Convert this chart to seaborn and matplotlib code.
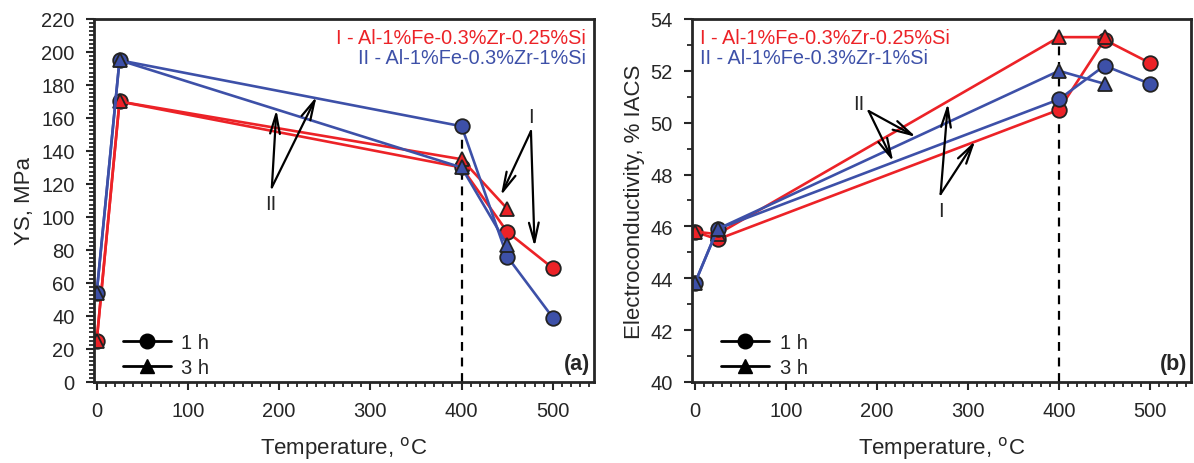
import numpy as np
import pandas as pd
import matplotlib
matplotlib.use("Agg")
import matplotlib.pyplot as plt
import seaborn as sns
from matplotlib.lines import Line2D
from matplotlib.ticker import MultipleLocator

# ---- data ----
temp_1h = [0, 25, 400, 450, 500]
temp_3h = [0, 25, 400, 450]

ys_I_1h = [25, 170, 130, 91, 69]
ys_I_3h = [25, 170, 135, 105]
ys_II_1h = [54, 195, 155, 76, 39]
ys_II_3h = [54, 195, 130, 83]

ec_I_1h = [45.8, 45.5, 50.5, 53.2, 52.3]
ec_I_3h = [45.8, 45.7, 53.3, 53.3]
ec_II_1h = [43.8, 45.9, 50.9, 52.2, 51.5]
ec_II_3h = [43.8, 45.9, 52.0, 51.5]

alloy_I = "I - Al-1%Fe-0.3%Zr-0.25%Si"
alloy_II = "II - Al-1%Fe-0.3%Zr-1%Si"

RED = "#ec2227"
BLUE = "#3d50a8"


def long_df(vals):
    rows = []
    for alloy, time, temps, v in vals:
        for t, y in zip(temps, v):
            rows.append({"alloy": alloy, "time": time, "temp": t, "val": y})
    return pd.DataFrame(rows)


ys = long_df([(alloy_I, "1 h", temp_1h, ys_I_1h), (alloy_I, "3 h", temp_3h, ys_I_3h),
              (alloy_II, "1 h", temp_1h, ys_II_1h), (alloy_II, "3 h", temp_3h, ys_II_3h)])
ec = long_df([(alloy_I, "1 h", temp_1h, ec_I_1h), (alloy_I, "3 h", temp_3h, ec_I_3h),
              (alloy_II, "1 h", temp_1h, ec_II_1h), (alloy_II, "3 h", temp_3h, ec_II_3h)])

sns.set_style("ticks")
plt.rcParams["font.family"] = ["Liberation Sans", "DejaVu Sans"]
plt.rcParams["font.size"] = 14

fig = plt.figure(figsize=(11.94, 4.64), dpi=100)
ax1 = fig.add_axes([0.0787, 0.1746, 0.4187, 0.7823])
ax2 = fig.add_axes([0.5796, 0.1746, 0.4179, 0.7823])

pal = {alloy_I: RED, alloy_II: BLUE}
mk = {"1 h": "o", "3 h": "^"}


def draw(ax, df, ylim, ymajor, yminor, ylabel, tag, text_x, text_ha):
    sns.lineplot(data=df, x="temp", y="val", hue="alloy", style="time",
                 markers=mk, dashes=False, palette=pal, ax=ax, legend=False,
                 lw=1.9, markersize=10.5, markeredgecolor="#222222",
                 markeredgewidth=1.3, sort=False)
    top = df.loc[df["temp"] == 400, "val"].max()
    ax.vlines(400, ylim[0], top, colors="k", linestyles=(0, (4, 3)), lw=1.6, zorder=1)
    ax.set_xlim(-3, 545)
    ax.set_ylim(*ylim)
    ax.xaxis.set_major_locator(MultipleLocator(100))
    ax.xaxis.set_minor_locator(MultipleLocator(10))
    ax.yaxis.set_major_locator(MultipleLocator(ymajor))
    ax.yaxis.set_minor_locator(MultipleLocator(yminor))
    ax.tick_params(which="major", direction="out", length=6, width=1.5, labelsize=14.5, pad=8)
    ax.tick_params(which="minor", direction="out", length=3.5, width=1.3)
    for s in ax.spines.values():
        s.set_linewidth(2)
    ax.set_xlabel("Temperature, $^{\\rm o}$C", fontsize=16, labelpad=10)
    ax.set_ylabel(ylabel, fontsize=16)
    ax.text(text_x, 0.950, alloy_I, color=RED, ha=text_ha, va="center",
            transform=ax.transAxes, fontsize=14.3)
    ax.text(text_x, 0.893, alloy_II, color=BLUE, ha=text_ha, va="center",
            transform=ax.transAxes, fontsize=14.3)
    ax.text(0.992, 0.05, tag, ha="right", va="center", transform=ax.transAxes,
            fontsize=15.5, fontweight="bold")
    handles = [Line2D([], [], color="k", lw=2, marker="o", markersize=10.5, label="1 h"),
               Line2D([], [], color="k", lw=2, marker="^", markersize=10.5, label="3 h")]
    ax.legend(handles=handles, loc="lower left", bbox_to_anchor=(0.03, -0.025),
              frameon=False, handlelength=2.4, fontsize=14.5, labelspacing=0.3,
              handletextpad=0.5, borderaxespad=0.3)


draw(ax1, ys, (0, 220), 20, 2.5, "YS, MPa", "(a)", 0.984, "right")
draw(ax2, ec, (40, 54), 2, 1, "Electroconductivity, % IACS", "(b)", 0.016, "left")

arrow = dict(arrowstyle="->,head_length=1.0,head_width=0.25", color="k", lw=1.6,
             shrinkA=0, shrinkB=0)

# panel (a) annotations
ax1.text(191, 108, "II", ha="center", va="center", fontsize=14.5)
for tip in [(197, 165), (241, 173)]:
    ax1.annotate("", xy=tip, xytext=(192, 118), arrowprops=arrow)
ax1.text(476, 161, "I", ha="center", va="center", fontsize=14.5)
for tip in [(443, 113), (480, 82)]:
    ax1.annotate("", xy=tip, xytext=(476, 152), arrowprops=arrow)

# panel (b) annotations
ax2.text(180, 50.76, "II", ha="center", va="center", fontsize=14.5)
for tip in [(243, 49.45), (218, 48.5)]:
    ax2.annotate("", xy=tip, xytext=(191, 50.45), arrowprops=arrow)
ax2.text(270, 46.6, "I", ha="center", va="center", fontsize=14.5)
for tip in [(278, 50.75), (308, 49.3)]:
    ax2.annotate("", xy=tip, xytext=(270, 47.25), arrowprops=arrow)

fig.savefig("out.png", dpi=100)
